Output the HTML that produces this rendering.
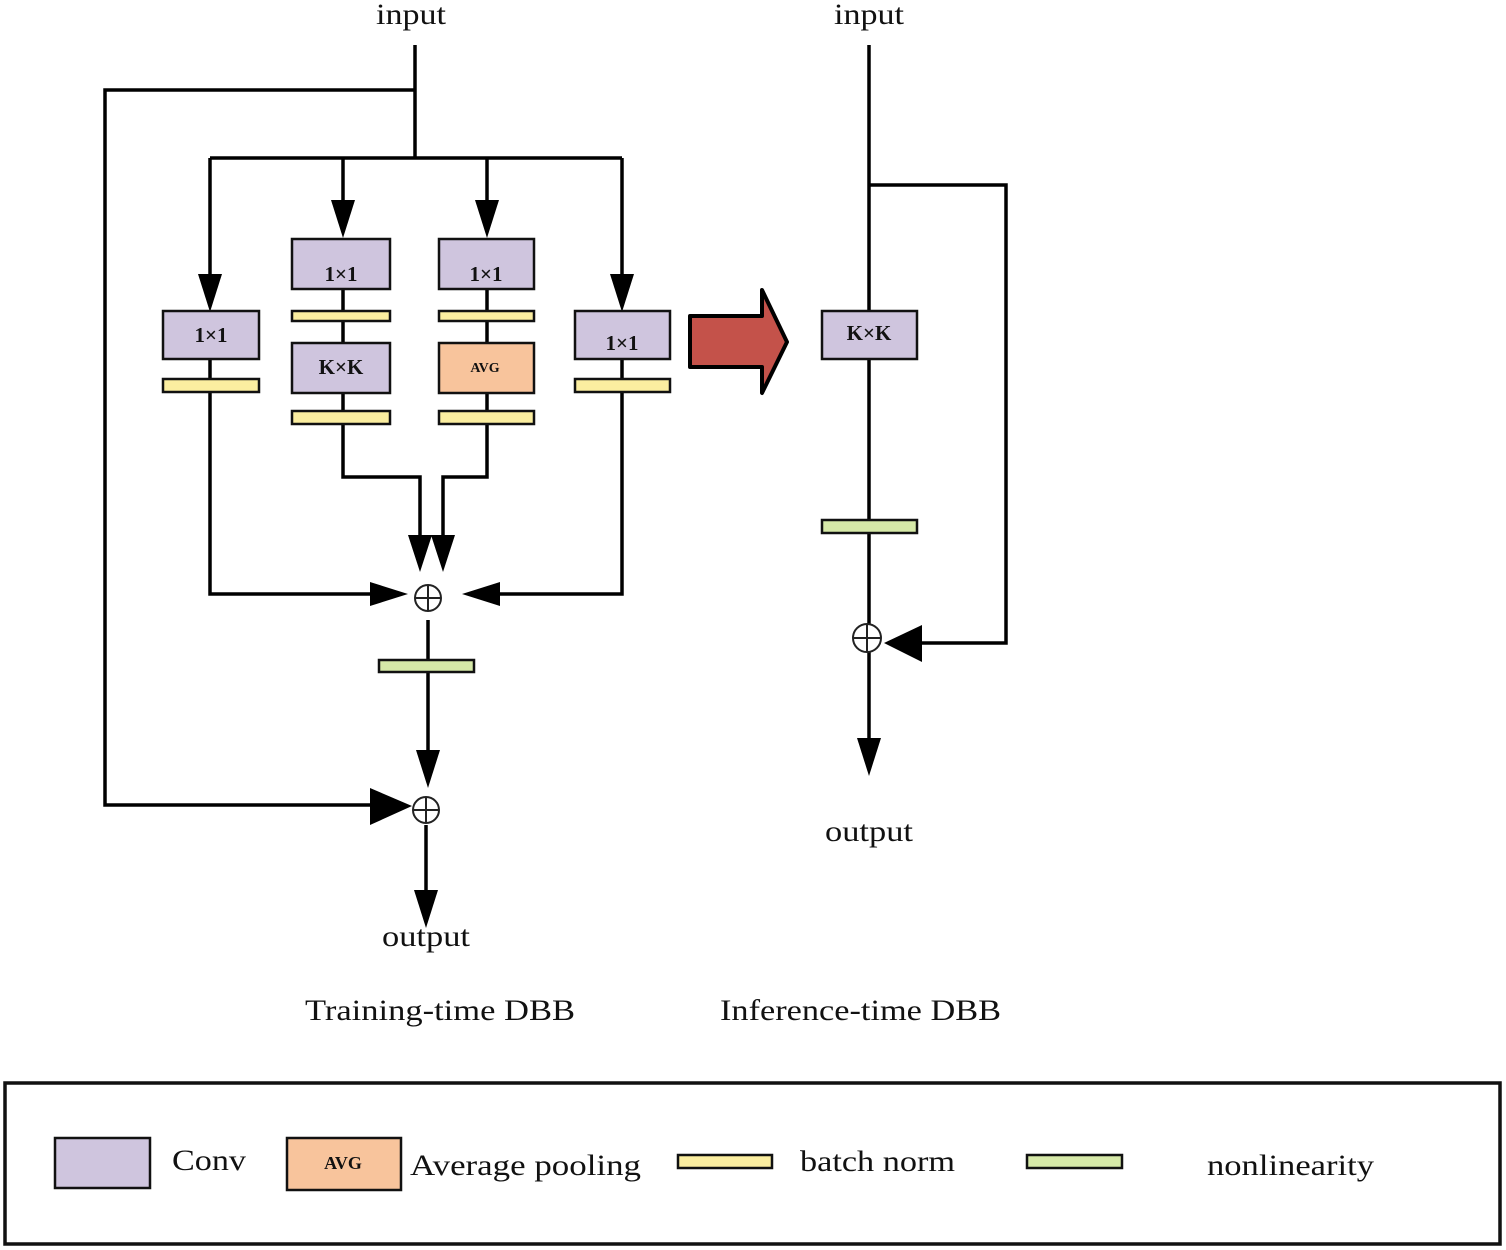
<!DOCTYPE html>
<html><head><meta charset="utf-8"><style>
html,body{margin:0;padding:0;background:#fff;}
svg{display:block;}
text{font-family:"Liberation Serif",serif;fill:#111;}
</style></head><body>
<svg width="1506" height="1250" viewBox="0 0 1506 1250" xmlns="http://www.w3.org/2000/svg">
<g stroke="#000" stroke-width="3.5" fill="none">
<polyline points="415,45 415,158"/>
<polyline points="415,90 105,90 105,805 385,805"/>
<polyline points="210,158 622,158"/>
<line x1="210" y1="158" x2="210" y2="285"/>
<line x1="343" y1="158" x2="343" y2="212"/>
<line x1="487" y1="158" x2="487" y2="212"/>
<line x1="622" y1="158" x2="622" y2="285"/>
<line x1="210" y1="359" x2="210" y2="379"/>
<polyline points="210,392 210,594 385,594"/>
<line x1="622" y1="359" x2="622" y2="379"/>
<polyline points="622,392 622,594 488,594"/>
<line x1="343" y1="289" x2="343" y2="343"/>
<line x1="487" y1="289" x2="487" y2="343"/>
<line x1="343" y1="393" x2="343" y2="411"/>
<line x1="487" y1="393" x2="487" y2="411"/>
<polyline points="343,424 343,477 420,477 420,540"/>
<polyline points="487,424 487,477 443,477 443,540"/>
<line x1="428" y1="620" x2="428" y2="760"/>
<line x1="426" y1="825" x2="426" y2="900"/>
<line x1="869" y1="45" x2="869" y2="311"/>
<polyline points="869,185 1006,185 1006,643 910,643"/>
<line x1="869" y1="359" x2="869" y2="520"/>
<line x1="869" y1="533" x2="869" y2="624"/>
<line x1="869" y1="652" x2="869" y2="745"/>
</g>
<g fill="#000">
<polygon points="198,274 222,274 210,312"/>
<polygon points="331,200 355,200 343,238"/>
<polygon points="475,200 499,200 487,238"/>
<polygon points="610,274 634,274 622,312"/>
<polygon points="408,535 432,535 420,572"/>
<polygon points="431,535 455,535 443,572"/>
<polygon points="416,750 440,750 428,788"/>
<polygon points="414,890 438,890 426,928"/>
<polygon points="857,738 881,738 869,776"/>
<polygon points="370,582 370,606 408,594"/>
<polygon points="500,582 500,606 462,594"/>
<polygon points="370,788 370,825 412,806"/>
<polygon points="922,625 922,662 884,643"/>
</g>
<g stroke="#222" stroke-width="2" fill="#fff">
<circle cx="428" cy="598" r="13"/><line x1="415" y1="598" x2="441" y2="598"/><line x1="428" y1="585" x2="428" y2="611"/>
<circle cx="426" cy="810" r="13"/><line x1="413" y1="810" x2="439" y2="810"/><line x1="426" y1="797" x2="426" y2="823"/>
<circle cx="867" cy="638" r="14"/><line x1="853" y1="638" x2="881" y2="638"/><line x1="867" y1="624" x2="867" y2="652"/>
</g>
<g stroke="#111" stroke-width="2.5">
<rect x="163" y="311" width="96" height="48" fill="#cfc5de"/>
<rect x="292" y="239" width="98" height="50" fill="#cfc5de"/>
<rect x="439" y="239" width="95" height="50" fill="#cfc5de"/>
<rect x="292" y="343" width="98" height="50" fill="#cfc5de"/>
<rect x="439" y="343" width="95" height="50" fill="#f8c49c"/>
<rect x="575" y="311" width="95" height="48" fill="#cfc5de"/>
<rect x="822" y="311" width="95" height="48" fill="#cfc5de"/>
<rect x="163" y="379" width="96" height="13" fill="#fbeea0"/>
<rect x="292" y="311" width="98" height="10" fill="#fbeea0"/>
<rect x="439" y="311" width="95" height="10" fill="#fbeea0"/>
<rect x="292" y="411" width="98" height="13" fill="#fbeea0"/>
<rect x="439" y="411" width="95" height="13" fill="#fbeea0"/>
<rect x="575" y="379" width="95" height="13" fill="#fbeea0"/>
<rect x="379" y="660" width="95" height="12" fill="#d6e9a8"/>
<rect x="822" y="520" width="95" height="13" fill="#d6e9a8"/>
<rect x="55" y="1138" width="95" height="50" fill="#cfc5de"/>
<rect x="287" y="1138" width="114" height="52" fill="#f8c49c"/>
<rect x="678" y="1155" width="94" height="13" fill="#fbeea0"/>
<rect x="1027" y="1155" width="95" height="13" fill="#d6e9a8"/>
</g>
<polygon points="690,316 762,316 762,290 787,342 762,393 762,367 690,367" fill="#c4524a" stroke="#000" stroke-width="4" stroke-linejoin="round"/>
<g font-weight="bold" font-size="21" text-anchor="middle">
<text x="211" y="342">1×1</text>
<text x="341" y="281">1×1</text>
<text x="486" y="281">1×1</text>
<text x="341" y="374">K×K</text>
<text x="485" y="372" font-size="14">AVG</text>
<text x="622" y="350">1×1</text>
<text x="869" y="340">K×K</text>
<text x="343" y="1169" font-size="18">AVG</text>
</g>
<g font-size="30" lengthAdjust="spacingAndGlyphs">
<text x="376" y="24" textLength="70" lengthAdjust="spacingAndGlyphs">input</text>
<text x="834" y="24" textLength="70" lengthAdjust="spacingAndGlyphs">input</text>
<text x="382" y="946" textLength="88" lengthAdjust="spacingAndGlyphs">output</text>
<text x="825" y="841" textLength="88" lengthAdjust="spacingAndGlyphs">output</text>
<text x="305" y="1020" textLength="270" lengthAdjust="spacingAndGlyphs">Training-time DBB</text>
<text x="720" y="1020" textLength="281" lengthAdjust="spacingAndGlyphs">Inference-time DBB</text>
<text x="172" y="1170" textLength="74" lengthAdjust="spacingAndGlyphs">Conv</text>
<text x="410" y="1175" textLength="231" lengthAdjust="spacingAndGlyphs">Average pooling</text>
<text x="800" y="1171" textLength="155" lengthAdjust="spacingAndGlyphs">batch norm</text>
<text x="1207" y="1175" textLength="167" lengthAdjust="spacingAndGlyphs">nonlinearity</text>
</g>
<rect x="5" y="1083" width="1495" height="161" fill="none" stroke="#111" stroke-width="3.5"/>
</svg>
</body></html>
